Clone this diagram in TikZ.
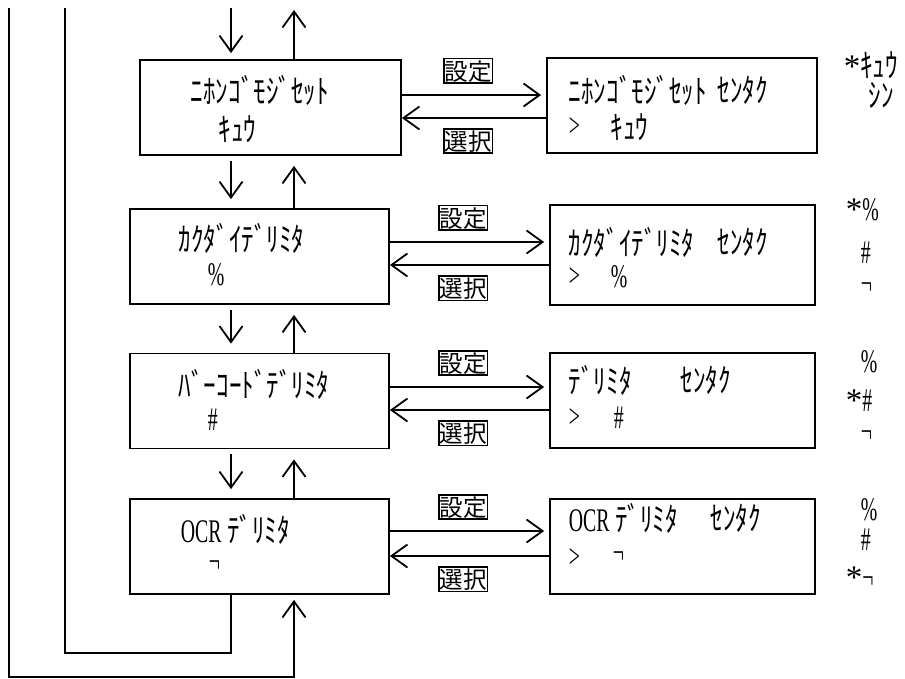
\documentclass[tikz,border=0pt]{standalone}
\usepackage{fontspec}
\setmainfont{Noto Sans CJK JP}
\newfontfamily\kana[FakeStretch=0.76]{Noto Sans CJK JP}
\newfontfamily\latin[FakeStretch=0.6]{Liberation Serif}
\newfontfamily\starfont{Liberation Serif}
\usetikzlibrary{arrows.meta, positioning}

\begin{document}
\begin{tikzpicture}[
    x=1pt, y=-1pt,
    line width=1.8pt,
    arr/.style={-{Straight Barb[length=16pt,width=23pt]}},
    menu/.style={draw, minimum height=95pt, inner sep=0pt},
    txt/.style={anchor=west, inner sep=0pt, font=\kana\fontsize{33}{33}\selectfont},
    key/.style={draw, line width=1.6pt, inner xsep=0.8pt, inner ysep=0pt, text height=21.5pt, text depth=3pt,
      font=\fontsize{23.5}{23.5}\selectfont}
  ]
  \useasboundingbox (0,0) rectangle (905,679);

  % menu screens (left) and selection screens (right)
  \node[menu, minimum width=261pt] (m1) at (270.5,107.5) {};
  \node[menu, minimum width=259pt] (m2) at (259.5,256.5) {};
  \node[menu, minimum width=259pt] (m3) at (259.5,401) {};
  \node[menu, minimum width=259pt] (m4) at (259.5,546.5) {};
  \node[menu, minimum width=270pt] (s1) at (682,105.5) {};
  \node[menu, minimum width=265pt, minimum height=100pt] (s2) at (682.5,255) {};
  \node[menu, minimum width=265pt] (s3) at (682.5,400.5) {};
  \node[menu, minimum width=265pt] (s4) at (682.5,546.5) {};

  \node[txt] (m1a) at (190,90) {ﾆﾎﾝｺﾞﾓｼﾞｾｯﾄ};
  \node[txt] (m1b) at (218,129) {ｷｭｳ};
  \node[txt] (m2a) at (178,238) {ｶｸﾀﾞｲﾃﾞﾘﾐﾀ};
  \node[txt] (m2b) at (207,275) {\latin\%};
  \node[txt] (m3a) at (178,384) {ﾊﾞｰｺｰﾄﾞﾃﾞﾘﾐﾀ};
  \node[txt] (m3b) at (207,420) {\latin\#};
  \node[txt] (m4a) at (180,529) {{\latin OCR} ﾃﾞﾘﾐﾀ};
  \node[txt] (m4b) at (208,567) {\latin¬};

  \node[txt] (s1a) at (568,90) {ﾆﾎﾝｺﾞﾓｼﾞｾｯﾄ};
  \node[txt] (s1c) at (717,90) {ｾﾝﾀｸ};
  \node[txt] (s1b) at (568,127) {\latin>};
  \node[txt] (s1d) at (610,127) {ｷｭｳ};
  \node[txt] (s2a) at (568,242) {ｶｸﾀﾞｲﾃﾞﾘﾐﾀ};
  \node[txt] (s2c) at (717,242) {ｾﾝﾀｸ};
  \node[txt] (s2b) at (568,277) {\latin>};
  \node[txt] (s2d) at (610,277) {\latin\%};
  \node[txt] (s3a) at (568,380) {ﾃﾞﾘﾐﾀ};
  \node[txt] (s3c) at (680,380) {ｾﾝﾀｸ};
  \node[txt] (s3b) at (568,418) {\latin>};
  \node[txt] (s3d) at (613,418) {\latin\#};
  \node[txt] (s4a) at (568,518) {{\latin OCR} ﾃﾞﾘﾐﾀ};
  \node[txt] (s4c) at (710,518) {ｾﾝﾀｸ};
  \node[txt] (s4b) at (568,558) {\latin>};
  \node[txt] (s4d) at (612,558) {\latin¬};

  % choices beside each screen
  \node[txt] (c1a) at (843,65) {{\starfont*}ｷｭｳ};
  \node[txt] (c1b) at (868,95) {ｼﾝ};
  \node[txt] (c2a) at (845,210) {{\starfont*}\latin\%};
  \node[txt] (c2b) at (860,253) {\latin\#};
  \node[txt] (c2c) at (860,289) {\latin¬};
  \node[txt] (c3a) at (860,362) {\latin\%};
  \node[txt] (c3b) at (845,401) {{\starfont*}\latin\#};
  \node[txt] (c3c) at (860,437) {\latin¬};
  \node[txt] (c4a) at (860,510) {\latin\%};
  \node[txt] (c4b) at (860,540) {\latin\#};
  \node[txt] (c4c) at (845,578) {{\starfont*}\latin¬};

  % set / select
  \foreach \i/\u/\d in {1/12.5/10.5, 2/14.5/8.5, 3/14/9, 4/15.5/9.5} {
    \draw[arr, shorten >=5pt] ([yshift=\u pt]m\i.east) -- ([yshift=\u pt]m\i.east -| s\i.west)
      node[key, pos=0.46, above=11pt] (set\i) {設定};
    \draw[arr] ([yshift=-\d pt]m\i.east -| s\i.west) -- ([yshift=-\d pt]m\i.east)
      node[key, pos=0.54, below=10pt] (sel\i) {選択};
  }

  % up / down between menus
  \coordinate (dn) at (231,0);
  \coordinate (up) at (294,0);
  \coordinate (top) at (0,8);
  \coordinate (bot) at (0,653);
  \coordinate (low) at (0,677);
  \coordinate (inner) at (65,0);
  \coordinate (outer) at (9,0);
  \draw[arr, shorten >=6pt] (dn |- top) -- (dn |- m1.north);
  \draw[arr, shorten >=2pt] (up |- m1.north) -- (up |- top);
  \foreach \a/\b in {1/2, 2/3, 3/4} {
    \draw[arr, shorten <=5pt, shorten >=9pt] (dn |- m\a.south) -- (dn |- m\b.north);
    \draw[arr, shorten >=10pt] (up |- m\b.north) -- (up |- m\a.south);
  }
  \draw (dn |- m4.south) -- (dn |- bot) -- (inner |- bot) -- (inner |- top);
  \draw[arr, shorten >=5pt] (outer |- top) -- (outer |- low) -- (up |- low) -- (up |- m4.south);
\end{tikzpicture}
\end{document}
